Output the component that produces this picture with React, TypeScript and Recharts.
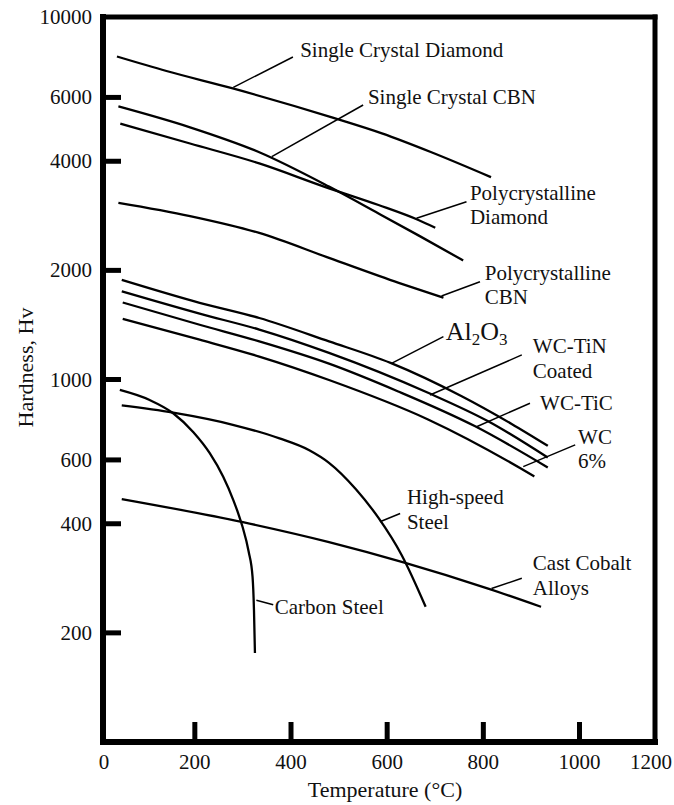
import { LineChart, Line, XAxis, YAxis, ReferenceLine, ReferenceDot } from "recharts";

// hardness (Hv) vs temperature (°C) as [temp, hardness]
const SC_DIAMOND: [number, number][] = [
  [38, 7780], [141, 7096], [279, 6352], [485, 5286], [589, 4776], [692, 4236], [816, 3616],
];
const SC_CBN: [number, number][] = [
  [41, 5667], [190, 4962], [334, 4236], [479, 3406], [582, 2871], [665, 2498], [758, 2130],
];
const PC_DIAMOND: [number, number][] = [
  [45, 5080], [190, 4477], [334, 3945], [470, 3401], [582, 3029], [665, 2754], [700, 2623],
];
const PC_CBN: [number, number][] = [
  [41, 3073], [190, 2825], [334, 2537], [479, 2165], [624, 1848], [717, 1681],
];
const AL2O3: [number, number][] = [
  [48, 1883], [210, 1628], [334, 1478], [479, 1274], [607, 1111], [755, 899], [858, 755], [934, 656],
];
const WC_TIN: [number, number][] = [
  [48, 1750], [210, 1519], [334, 1373], [479, 1184], [685, 919], [810, 767], [934, 609],
];
const WC_TIC: [number, number][] = [
  [50, 1631], [210, 1416], [334, 1274], [479, 1106], [623, 927], [782, 744], [934, 572],
];
const WC_6: [number, number][] = [
  [50, 1469], [210, 1288], [334, 1157], [479, 997], [685, 776], [878, 568], [906, 540],
];
const HSS: [number, number][] = [
  [48, 848], [155, 810], [279, 750], [376, 688], [438, 638], [479, 589], [535, 498], [582, 415], [630, 328], [680, 236],
];
const CAST_COBALT: [number, number][] = [
  [48, 468], [300, 404], [479, 356], [634, 313], [810, 265], [920, 236],
];
const CARBON_STEEL: [number, number][] = [
  [44, 936], [106, 878], [155, 807], [197, 715], [231, 626], [259, 539], [280, 465],
  [290, 428], [299, 393], [312, 335], [320, 286], [323, 231], [325, 176],
];

const SERIES = [SC_DIAMOND, SC_CBN, PC_DIAMOND, PC_CBN, AL2O3, WC_TIN, WC_TIC, WC_6, HSS, CAST_COBALT, CARBON_STEEL];

const X_TICKS = [0, 200, 400, 600, 800, 1000, 1200];
const Y_TICKS = [200, 400, 600, 1000, 2000, 4000, 6000, 10000];
const X_DOMAIN: [number, number] = [9, 1157];
const Y_DOMAIN: [number, number] = [100, 10000];

// label text anchor [temp, hardness], leader from -> to
const LABELS: { lines: string[]; at: [number, number]; from: [number, number]; to: [number, number] }[] = [
  { lines: ["Single Crystal Diamond"], at: [419, 7758], from: [404, 7758], to: [280, 6397] },
  { lines: ["Single Crystal CBN"], at: [560, 5754], from: [550, 5717], to: [360, 4118] },
  { lines: ["Polycrystalline", "Diamond"], at: [772, 3128], from: [765, 3094], to: [661, 2784] },
  { lines: ["Polycrystalline", "CBN"], at: [803, 1882], from: [793, 1861], to: [713, 1699] },
  { lines: ["Al2O3"], at: [722, 1285], from: [717, 1313], to: [609, 1108] },
  { lines: ["WC-TiN", "Coated"], at: [903, 1183], from: [880, 1169], to: [689, 906] },
  { lines: ["WC-TiC"], at: [918, 824], from: [897, 860], to: [786, 741] },
  { lines: ["WC", "6%"], at: [997, 664], from: [991, 660], to: [883, 575] },
  { lines: ["High-speed", "Steel"], at: [641, 453], from: [627, 427], to: [585, 405] },
  { lines: ["Cast Cobalt", "Alloys"], at: [903, 298], from: [880, 283], to: [817, 265] },
  { lines: ["Carbon Steel"], at: [366, 225], from: [328, 246], to: [363, 239] },
];

const FONT = "'Liberation Serif', 'Times New Roman', serif";
const INK = "#111";
const PLOT_LEFT = 103;
const PLOT_RIGHT = 655;

function toPoints(pairs: [number, number][]) {
  return pairs.map(([t, h]) => ({ t, h }));
}

function XTick(props: any) {
  const { x, y, payload } = props;
  const v = payload.value;
  const inner = v > 0 && v < 1200;
  const tx = Math.min(Math.max(x, PLOT_LEFT + 1), PLOT_RIGHT - 4);
  return (
    <g>
      {inner && <line x1={x} x2={x} y1={y} y2={y - 20} stroke="#000" strokeWidth={5} />}
      <text x={tx} y={y + 27} textAnchor="middle" fontSize={21} fontFamily={FONT} fill={INK}>
        {v}
      </text>
    </g>
  );
}

function YTick(props: any) {
  const { x, y, payload } = props;
  const v = payload.value;
  return (
    <g>
      {v < 10000 && <line x1={x} x2={x + 18} y1={y} y2={y} stroke="#000" strokeWidth={5} />}
      <text x={x - 11} y={y + 7} textAnchor="end" fontSize={21} fontFamily={FONT} fill={INK}>
        {v}
      </text>
    </g>
  );
}

function AnnotationText(props: any) {
  const { viewBox, lines } = props;
  const x = viewBox.x;
  const y = viewBox.y;
  if (lines[0] === "Al2O3") {
    return (
      <text x={x} y={y} fontSize={26} fontFamily={FONT} fill={INK}>
        <tspan>Al</tspan>
        <tspan fontSize={17} dy={5}>2</tspan>
        <tspan dy={-5}>O</tspan>
        <tspan fontSize={17} dy={5}>3</tspan>
      </text>
    );
  }
  return (
    <text x={x} y={y} fontSize={21} fontFamily={FONT} fill={INK}>
      {lines.map((l: string, i: number) => (
        <tspan key={i} x={x} dy={i === 0 ? 0 : 24.5}>
          {l}
        </tspan>
      ))}
    </text>
  );
}

export default function App() {
  return (
    <div style={{ position: "absolute", left: 0, top: 0, width: 674, height: 805, background: "#fff" }}>
      <LineChart width={674} height={805} margin={{ top: 17, right: 19, bottom: 0, left: 0 }}>
        <XAxis
          type="number"
          dataKey="t"
          domain={X_DOMAIN}
          allowDataOverflow
          ticks={X_TICKS}
          interval={0}
          tick={<XTick />}
          tickLine={false}
          tickSize={0}
          tickMargin={0}
          height={63}
          axisLine={{ stroke: "#000", strokeWidth: 6, strokeLinecap: "square" }}
          label={(p: any) => (
            <text
              x={p.viewBox.x + p.viewBox.width / 2 + 6}
              y={p.viewBox.y + 55}
              textAnchor="middle"
              fontSize={22}
              fontFamily={FONT}
              fill={INK}
            >
              Temperature (°C)
            </text>
          )}
        />
        <YAxis
          type="number"
          scale="log"
          domain={Y_DOMAIN}
          allowDataOverflow
          ticks={Y_TICKS}
          interval={0}
          tick={<YTick />}
          tickLine={false}
          tickSize={0}
          tickMargin={0}
          width={103}
          axisLine={{ stroke: "#000", strokeWidth: 6, strokeLinecap: "square" }}
          label={(p: any) => {
            const cx = p.viewBox.x + 33;
            const cy = p.viewBox.y + p.viewBox.height / 2 - 12;
            return (
              <text
                x={cx}
                y={cy}
                transform={`rotate(-90 ${cx} ${cy})`}
                textAnchor="middle"
                fontSize={22}
                fontFamily={FONT}
                fill={INK}
              >
                Hardness, Hv
              </text>
            );
          }}
        />
        <ReferenceLine y={Y_DOMAIN[1]} stroke="#000" strokeWidth={5} strokeLinecap="square" ifOverflow="visible" />
        <ReferenceLine x={X_DOMAIN[1]} stroke="#000" strokeWidth={5} strokeLinecap="square" ifOverflow="visible" />
        {SERIES.map((s, i) => (
          <Line
            key={i}
            data={toPoints(s)}
            dataKey="h"
            type="monotone"
            stroke="#000"
            strokeWidth={2.3}
            dot={false}
            activeDot={false}
            isAnimationActive={false}
          />
        ))}
        {LABELS.map((a, i) => (
          <ReferenceLine
            key={"l" + i}
            segment={[
              { x: a.from[0], y: a.from[1] },
              { x: a.to[0], y: a.to[1] },
            ]}
            stroke="#000"
            strokeWidth={1.5}
            ifOverflow="visible"
          />
        ))}
        {LABELS.map((a, i) => (
          <ReferenceDot
            key={"d" + i}
            x={a.at[0]}
            y={a.at[1]}
            r={0}
            fill="none"
            stroke="none"
            ifOverflow="visible"
            label={<AnnotationText lines={a.lines} />}
          />
        ))}
      </LineChart>
    </div>
  );
}
